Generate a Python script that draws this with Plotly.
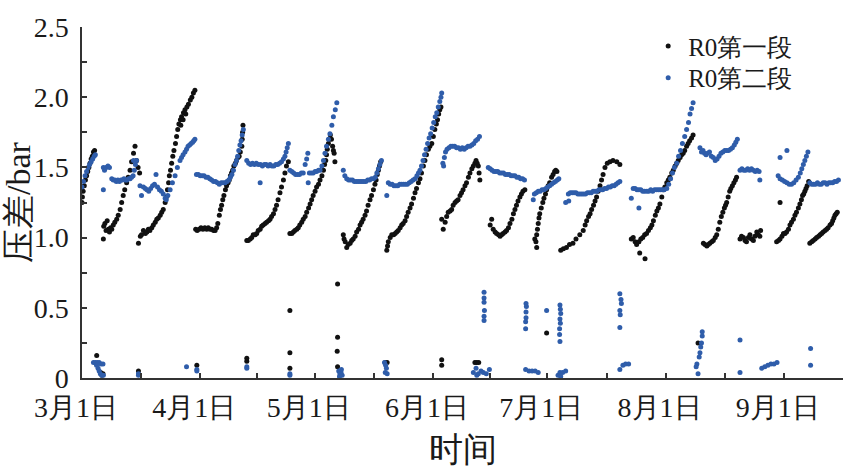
import plotly.graph_objects as go

# ---------------- data (day offset from 3月1日, pressure difference in bar) ----------------
# R0第一段 (black) – main readings, per cycle
seg1_c1 = [(0.0,1.25),(0.1,1.29),(0.3,1.33),(0.6,1.37),(0.9,1.41),(1.2,1.44),(1.5,1.47),(1.8,1.50),(2.1,1.53),(2.4,1.56),(2.7,1.58),(3.0,1.61),(3.3,1.62)]
seg1_c2 = [(5.6,0.99),(5.7,1.08),(6.0,1.10),(6.3,1.05),(6.6,1.12),(6.9,1.06),(7.2,1.04),(7.5,1.07),(7.8,1.06),(8.2,1.09),(8.6,1.11),(9.1,1.13),(9.5,1.16),(10.0,1.20),(10.4,1.25),(10.8,1.30),(11.2,1.34),(11.7,1.39),(12.1,1.43),(12.6,1.48),(13.0,1.54),(13.5,1.60),(13.9,1.65),(14.3,1.55),(14.7,1.50),(15.1,1.46)]
seg1_c3 = [(14.8,0.96),(15.3,1.01),(15.6,1.02),(16.1,1.05),(16.6,1.03),(17.0,1.04),(17.4,1.06),(17.8,1.05),(18.3,1.07),(18.7,1.09),(19.2,1.11),(19.6,1.13),(20.0,1.14),(20.5,1.16),(20.9,1.18),(21.3,1.20),(21.8,1.25),(22.1,1.29),(22.4,1.34),(22.7,1.39),(22.9,1.44),(23.2,1.48),(23.5,1.53),(23.8,1.58),(24.1,1.62),(24.5,1.67),(24.8,1.72),(25.1,1.77),(25.4,1.81),(25.8,1.84),(26.1,1.86),(26.6,1.89),(27.0,1.91),(27.5,1.93),(27.9,1.95),(28.4,1.98),(28.8,2.00),(29.2,2.03),(29.6,2.05),(25.9,1.80),(26.5,1.84),(27.2,1.88)]
seg1_c4 = [(29.8,1.06),(30.2,1.05),(30.7,1.06),(31.2,1.07),(31.7,1.06),(32.2,1.07),(32.7,1.06),(33.1,1.07),(33.6,1.06),(34.0,1.06),(34.5,1.05),(34.9,1.05),(35.3,1.07),(35.6,1.10),(36.0,1.16),(36.3,1.20),(36.6,1.23),(36.9,1.27),(37.2,1.30),(37.6,1.34),(37.9,1.37),(38.3,1.39),(38.6,1.41),(38.9,1.44),(39.2,1.46),(39.5,1.48),(39.8,1.51),(40.2,1.53),(40.5,1.55),(40.9,1.57),(41.2,1.58),(41.5,1.61),(41.9,1.65),(42.0,1.70),(42.1,1.75),(42.2,1.80)]
seg1_c5 = [(43.2,0.98),(43.6,0.98),(44.1,0.99),(44.5,1.00),(44.9,1.02),(45.4,1.02),(45.8,1.03),(46.2,1.05),(46.7,1.06),(47.1,1.08),(47.5,1.09),(48.0,1.10),(48.4,1.11),(48.9,1.12),(49.3,1.13),(49.7,1.15),(50.2,1.17),(50.6,1.20),(51.0,1.23),(51.4,1.27),(51.9,1.32),(52.3,1.36),(52.8,1.41),(53.2,1.46),(53.6,1.51),(54.1,1.54)]
seg1_c6 = [(54.5,1.03),(55.0,1.03),(55.4,1.04),(55.8,1.05),(56.3,1.06),(56.7,1.07),(57.1,1.09),(57.6,1.11),(58.0,1.13),(58.5,1.15),(58.9,1.18),(59.4,1.21),(59.8,1.24),(60.2,1.27),(60.6,1.30),(61.1,1.33),(61.5,1.36),(62.0,1.38),(62.4,1.41),(62.9,1.44),(63.3,1.48),(63.6,1.52),(63.9,1.55),(64.1,1.59),(64.3,1.63),(64.6,1.67),(64.8,1.70),(65.1,1.73),(65.4,1.70),(65.7,1.65),(65.9,1.62),(66.1,1.60),(66.3,1.54)]
seg1_c7 = [(68.5,1.02),(68.7,0.99),(69.0,0.97),(69.4,0.93),(69.8,0.95),(70.3,0.96),(70.7,0.98),(71.1,0.99),(71.6,1.01),(72.0,1.04),(72.5,1.06),(72.9,1.09),(73.3,1.11),(73.7,1.13),(74.2,1.16),(74.6,1.19),(75.0,1.23),(75.5,1.27),(75.9,1.30),(76.4,1.34),(76.8,1.38),(77.1,1.41),(77.4,1.45),(77.7,1.48),(78.0,1.51),(78.3,1.54)]
seg1_c8 = [(79.9,0.91),(80.1,0.94),(80.3,0.97),(80.8,1.00),(81.2,1.02),(81.7,1.02),(82.1,1.03),(82.5,1.04),(82.9,1.05),(83.4,1.07),(83.8,1.09),(84.2,1.10),(84.7,1.12),(85.1,1.15),(85.5,1.18),(86.0,1.21),(86.4,1.24),(86.9,1.28),(87.3,1.32),(87.7,1.35),(88.2,1.39),(88.6,1.42),(89.0,1.46),(89.5,1.51),(89.9,1.55),(90.3,1.59),(90.8,1.63),(91.2,1.65),(91.7,1.67),(92.1,1.72),(92.5,1.77),(92.9,1.81),(93.2,1.84),(93.5,1.88),(93.8,1.91),(94.1,1.93)]
seg1_c9 = [(94.3,1.13),(94.7,1.06),(95.2,1.11),(95.6,1.15),(96.0,1.18),(96.5,1.19),(96.9,1.20),(97.3,1.23),(97.8,1.25),(98.2,1.26),(98.6,1.27),(99.1,1.30),(99.5,1.32),(99.9,1.34),(100.4,1.37),(100.8,1.39),(101.3,1.43),(101.7,1.46),(102.2,1.49),(102.6,1.51),(103.0,1.53),(103.3,1.55),(103.6,1.53),(103.9,1.51),(104.1,1.46),(104.3,1.41)]
seg1_c10 = [(107.0,1.09),(107.4,1.13),(107.8,1.06),(108.3,1.04),(108.7,1.03),(109.2,1.02),(109.6,1.01),(110.0,1.02),(110.4,1.03),(110.9,1.04),(111.3,1.05),(111.8,1.07),(112.2,1.10),(112.7,1.13),(113.1,1.17),(113.5,1.20),(113.9,1.23),(114.3,1.26),(114.8,1.29),(115.2,1.31),(115.6,1.33),(116.1,1.34)]
seg1_c11 = [(118.7,0.99),(119.0,0.97),(119.2,0.93),(119.2,1.02),(119.4,1.06),(119.6,1.10),(119.8,1.14),(120.0,1.17),(120.4,1.21),(120.8,1.25),(121.1,1.28),(121.5,1.31),(121.8,1.34),(122.2,1.37),(122.6,1.39),(123.1,1.43),(123.5,1.45),(123.9,1.47),(124.2,1.48),(124.5,1.47)]
seg1_c12 = [(125.5,0.91),(126.2,0.92),(127.0,0.93),(127.8,0.95),(128.7,0.96),(129.5,0.99),(130.5,1.02),(131.4,1.05),(131.9,1.09),(132.3,1.12),(132.8,1.15),(133.2,1.17),(133.6,1.20),(134.1,1.23),(134.5,1.26),(134.9,1.29),(135.3,1.33),(135.8,1.37),(136.2,1.41),(136.6,1.45),(137.1,1.50),(137.7,1.53),(138.4,1.54),(139.2,1.55),(140.2,1.54),(141.0,1.52)]
seg1_c13 = [(144.0,0.99),(144.5,1.00),(145.0,0.97),(145.4,0.95),(146.0,0.97),(146.5,0.99),(147.0,1.00),(147.5,1.02),(148.0,1.03),(148.5,1.05),(149.0,1.07),(149.4,1.09),(149.8,1.12),(150.3,1.16),(150.7,1.19),(151.1,1.21),(151.5,1.24),(152.0,1.29),(152.4,1.34),(152.8,1.36),(153.3,1.39),(153.7,1.41),(154.1,1.43),(154.6,1.46),(155.0,1.48),(155.5,1.51),(155.9,1.53),(156.3,1.55),(156.8,1.57),(157.2,1.59),(157.6,1.60),(158.0,1.62),(158.5,1.65),(158.9,1.67),(159.3,1.69),(159.8,1.71),(160.2,1.73),(146.2,0.89),(147.6,0.85)]
seg1_c14 = [(162.9,0.96),(163.3,0.95),(163.8,0.94),(164.2,0.95),(164.6,0.96),(165.1,0.97),(165.5,0.98),(166.0,1.00),(166.4,1.02),(166.8,1.06),(167.2,1.11),(167.6,1.15),(168.0,1.18),(168.4,1.21),(168.7,1.23),(169.0,1.25),(169.4,1.29),(169.8,1.33),(170.1,1.35),(170.5,1.37),(170.9,1.39),(171.3,1.41),(171.6,1.43)]
seg1_c15 = [(172.5,0.99),(172.9,1.01),(173.4,1.00),(173.8,0.98),(174.2,0.97),(174.7,1.00),(175.1,1.02),(175.5,0.99),(176.0,0.98),(176.4,1.01),(176.9,1.04),(177.3,1.02),(177.7,1.01),(177.9,1.05)]
seg1_c16 = [(182.1,0.97),(182.6,0.98),(183.0,0.99),(183.0,1.25),(183.5,1.01),(183.9,1.03),(184.3,1.03),(184.7,1.04),(185.2,1.06),(185.6,1.09),(186.0,1.11),(186.5,1.13),(186.9,1.16),(187.3,1.18),(187.8,1.21),(188.2,1.24),(188.6,1.27),(188.9,1.30),(189.2,1.31),(189.5,1.33),(189.8,1.35),(190.1,1.37),(190.5,1.40)]
seg1_c17 = [(190.8,0.96),(191.3,0.97),(191.7,0.98),(192.2,0.99),(192.6,1.00),(193.1,1.01),(193.5,1.02),(193.9,1.03),(194.3,1.04),(194.8,1.05),(195.2,1.06),(195.6,1.07),(196.1,1.09),(196.5,1.10),(196.8,1.12),(197.1,1.14),(197.4,1.16),(197.7,1.17),(198.0,1.18)]
# R0第一段 – readings near zero (shutdown periods)
seg1_low = [(3.85,0.16),(4.9,0.04),(5.2,0.02),(5.5,0.03),(14.8,0.05),(30.1,0.09),(43.2,0.14),(43.2,0.12),(54.5,0.48),(54.5,0.18),(54.5,0.07),(67.0,0.67),(67.0,0.29),(66.9,0.19),(67.0,0.08),(79.5,0.11),(80.0,0.11),(94.3,0.13),(94.3,0.09),(103.0,0.11),(103.5,0.11),(104.0,0.11),(121.8,0.32),(161.5,0.25)]

# R0第二段 (blue) – main readings, per cycle
seg2_c1 = [(0.0,1.36),(0.4,1.40),(0.8,1.44),(1.2,1.47),(1.6,1.50),(2.0,1.52),(2.4,1.54),(2.8,1.56),(3.2,1.58),(3.5,1.59)]
seg2_c2 = [(5.6,1.34),(5.6,1.50),(5.9,1.48),(6.3,1.50),(6.8,1.51),(7.2,1.50),(7.8,1.42),(8.2,1.41),(8.6,1.41),(9.0,1.40),(9.4,1.41),(9.8,1.40),(10.2,1.41),(10.6,1.41),(11.0,1.42),(11.4,1.41),(11.8,1.41),(12.2,1.42),(12.6,1.42),(13.0,1.43),(13.4,1.44),(13.7,1.48),(14.0,1.52),(14.3,1.55),(13.5,1.55)]
seg2_c3 = [(15.2,1.37),(15.6,1.30),(16.1,1.36),(16.6,1.35),(17.0,1.34),(17.5,1.33),(18.0,1.35),(18.5,1.37),(19.0,1.38),(19.4,1.45),(19.8,1.36),(20.3,1.34),(20.8,1.33),(21.3,1.31),(21.8,1.28),(22.1,1.27),(22.5,1.30),(23.1,1.34),(23.7,1.39),(24.4,1.44),(25.0,1.50),(25.7,1.55),(26.1,1.57),(26.5,1.59),(27.0,1.61),(27.4,1.63),(27.8,1.65),(28.2,1.66),(28.6,1.67),(29.0,1.68),(29.3,1.69),(29.6,1.70)]
seg2_c4 = [(30.0,1.45),(30.5,1.45),(31.0,1.44),(31.5,1.44),(32.0,1.44),(32.5,1.43),(33.0,1.43),(33.5,1.42),(34.0,1.41),(34.5,1.40),(35.0,1.40),(35.5,1.39),(36.0,1.38),(36.5,1.39),(37.0,1.39),(37.5,1.39),(38.0,1.40),(38.5,1.41),(38.9,1.43),(39.3,1.45),(39.7,1.48),(40.1,1.52),(40.5,1.55),(40.8,1.58),(41.1,1.62),(41.4,1.66),(41.7,1.69),(42.0,1.73),(42.3,1.77)]
seg2_c5 = [(43.2,1.55),(43.7,1.53),(44.2,1.52),(44.7,1.53),(45.2,1.52),(45.7,1.53),(46.2,1.52),(46.7,1.39),(46.8,1.52),(47.3,1.51),(47.8,1.52),(48.3,1.52),(48.8,1.51),(49.3,1.52),(49.8,1.51),(50.3,1.51),(50.8,1.52),(51.3,1.52),(51.8,1.53),(52.3,1.54),(52.8,1.56),(53.2,1.58),(53.5,1.61),(53.8,1.64),(54.1,1.67)]
seg2_c6 = [(54.5,1.48),(55.0,1.47),(55.5,1.46),(56.0,1.45),(56.5,1.45),(57.0,1.45),(57.5,1.46),(58.0,1.46),(58.5,1.52),(58.9,1.56),(59.2,1.60),(59.3,1.39),(59.6,1.46),(60.1,1.46),(60.6,1.46),(61.1,1.47),(61.5,1.47),(62.0,1.48),(62.4,1.48),(62.9,1.51),(63.3,1.55),(63.7,1.60),(64.1,1.65),(64.6,1.70),(65.0,1.74),(65.5,1.80),(65.9,1.86),(66.4,1.91),(66.8,1.96)]
seg2_c7 = [(68.5,1.48),(68.9,1.44),(69.4,1.42),(69.9,1.41),(70.4,1.41),(70.9,1.41),(71.4,1.40),(71.9,1.40),(72.4,1.40),(72.9,1.40),(73.4,1.40),(73.9,1.40),(74.4,1.40),(74.9,1.41),(75.4,1.41),(75.9,1.42),(76.4,1.42),(76.9,1.43),(77.3,1.46),(77.7,1.49),(78.1,1.52),(78.5,1.55),(79.9,1.30)]
seg2_c8 = [(80.3,1.39),(80.8,1.38),(81.3,1.38),(81.8,1.37),(82.3,1.37),(82.8,1.37),(83.3,1.38),(83.8,1.38),(84.3,1.38),(84.8,1.38),(85.3,1.38),(85.8,1.39),(86.3,1.40),(86.8,1.41),(87.3,1.42),(87.8,1.44),(88.2,1.46),(88.6,1.48),(89.0,1.51),(89.4,1.55),(89.8,1.59),(90.2,1.63),(90.6,1.67),(91.0,1.71),(91.4,1.74),(91.8,1.78),(92.2,1.82),(92.6,1.86),(93.0,1.89),(93.4,1.93),(93.8,1.97),(94.1,2.00),(94.3,2.03)]
seg2_c9 = [(94.6,1.53),(94.8,1.51),(95.0,1.57),(95.3,1.61),(95.7,1.63),(96.2,1.64),(96.7,1.65),(97.2,1.65),(97.7,1.65),(98.2,1.64),(98.7,1.64),(99.2,1.63),(99.7,1.64),(100.2,1.63),(100.7,1.64),(101.2,1.65),(101.7,1.65),(102.2,1.66),(102.7,1.67),(103.2,1.69),(103.7,1.70),(104.2,1.72)]
seg2_c10 = [(106.5,1.50),(107.0,1.49),(107.5,1.48),(108.0,1.47),(108.5,1.47),(109.0,1.47),(109.5,1.46),(110.0,1.46),(110.5,1.46),(111.0,1.45),(111.5,1.45),(112.0,1.45),(112.5,1.44),(113.0,1.44),(113.5,1.44),(114.0,1.43),(114.5,1.43),(115.0,1.42),(115.5,1.42),(116.0,1.41)]
seg2_c11 = [(118.3,1.27),(118.6,1.31),(119.1,1.32),(119.6,1.33),(120.1,1.33),(120.6,1.34),(121.1,1.34),(121.6,1.35),(122.1,1.36),(122.6,1.37),(123.1,1.38),(123.6,1.39),(124.1,1.40),(124.6,1.41),(125.0,1.42)]
seg2_c12 = [(126.8,1.25),(127.6,1.26),(127.5,1.31),(128.0,1.32),(128.5,1.32),(129.0,1.32),(129.5,1.32),(130.0,1.31),(130.5,1.31),(131.0,1.31),(131.5,1.31),(132.0,1.31),(132.5,1.32),(133.0,1.32),(133.5,1.32),(134.0,1.33),(134.5,1.33),(135.0,1.33),(135.5,1.34),(136.0,1.34),(136.5,1.34),(137.0,1.35),(137.5,1.35),(138.0,1.36),(138.5,1.36),(139.0,1.37),(139.5,1.37),(140.0,1.38),(140.5,1.39),(141.0,1.40)]
seg2_c13 = [(144.0,1.28),(146.0,1.21),(144.5,1.35),(145.0,1.35),(145.5,1.34),(146.0,1.34),(146.5,1.34),(147.0,1.33),(147.5,1.33),(148.1,1.33),(148.6,1.33),(149.1,1.34),(149.6,1.33),(150.1,1.34),(150.6,1.34),(151.1,1.34),(151.6,1.34),(152.1,1.34),(152.6,1.34),(153.3,1.35),(153.8,1.38),(154.3,1.42),(154.8,1.46),(155.3,1.50),(155.9,1.53),(156.4,1.58),(156.9,1.62),(157.4,1.67),(158.0,1.72),(158.5,1.77),(159.0,1.82),(159.4,1.88),(159.8,1.92),(160.2,1.96)]
seg2_c14 = [(162.0,1.64),(162.4,1.61),(162.8,1.62),(163.2,1.60),(163.6,1.59),(164.0,1.60),(164.5,1.61),(165.0,1.58),(165.5,1.57),(166.0,1.55),(166.5,1.56),(167.0,1.58),(167.5,1.60),(168.0,1.61),(168.5,1.62),(169.0,1.62),(169.5,1.62),(170.0,1.63),(170.5,1.64),(171.0,1.66),(171.4,1.68),(171.8,1.70)]
seg2_c15 = [(172.5,1.48),(173.0,1.49),(173.5,1.48),(174.0,1.48),(174.5,1.49),(175.0,1.48),(175.5,1.49),(176.0,1.48),(176.5,1.47),(177.0,1.48),(177.5,1.47),(177.7,1.41)]
seg2_c16 = [(182.5,1.44),(183.0,1.57),(183.0,1.42),(183.6,1.41),(184.2,1.40),(184.8,1.62),(184.8,1.39),(185.4,1.38),(186.0,1.38),(186.6,1.39),(187.2,1.41),(187.8,1.43),(188.3,1.46),(188.7,1.49),(189.1,1.52),(189.5,1.55),(189.9,1.58),(190.3,1.61)]
seg2_c17 = [(190.8,1.39),(191.3,1.38),(191.8,1.38),(192.3,1.38),(192.8,1.39),(193.3,1.38),(193.8,1.38),(194.3,1.39),(194.8,1.39),(195.3,1.38),(195.8,1.39),(196.3,1.39),(196.8,1.39),(197.3,1.40),(197.8,1.40),(198.3,1.41)]
# R0第二段 – readings near zero
seg2_low = [(3.0,0.11),(3.5,0.11),(4.0,0.11),(4.5,0.11),(5.0,0.10),(5.5,0.10),(3.8,0.09),(4.2,0.07),(4.5,0.05),(4.8,0.03),(5.2,0.02),(5.6,0.02),
            (14.8,0.02),(14.8,0.03),(27.4,0.08),(30.1,0.06),(30.1,0.05),(43.2,0.08),(43.2,0.07),(54.5,0.03),(54.5,0.02),
            (67.3,0.05),(67.6,0.03),(67.9,0.04),(68.2,0.02),(67.5,0.01),(68.0,0.06),
            (79.3,0.11),(79.6,0.09),(79.8,0.07),(79.5,0.04),(80.0,0.03),
            (102.6,0.04),(103.3,0.07),(103.9,0.03),(104.6,0.05),(105.2,0.04),(106.0,0.03),(106.8,0.06),(103.5,0.02),
            (105.4,0.61),(105.4,0.57),(105.4,0.54),(105.5,0.48),(105.4,0.44),(105.4,0.41),
            (116.4,0.53),(116.5,0.51),(116.4,0.47),(116.4,0.43),(116.3,0.40),(116.3,0.35),
            (116.3,0.06),(117.2,0.05),(118.0,0.05),(118.8,0.05),(119.6,0.04),
            (121.8,0.48),
            (125.3,0.52),(125.4,0.49),(125.5,0.46),(125.3,0.42),(125.4,0.39),(125.2,0.35),(125.2,0.31),(125.3,0.26),
            (124.8,0.02),(125.3,0.04),(126.0,0.04),(126.8,0.05),(125.5,0.01),
            (141.0,0.60),(141.3,0.56),(141.4,0.53),(141.0,0.48),(141.1,0.45),(141.0,0.36),
            (141.0,0.06),(141.8,0.09),(142.5,0.10),(143.3,0.10),
            (162.6,0.33),(162.6,0.30),(162.4,0.25),(162.2,0.22),(162.0,0.18),(161.8,0.15),(161.2,0.10),(161.0,0.08),(161.5,0.03),
            (172.5,0.27),(172.5,0.04),
            (178.2,0.07),(179.0,0.08),(179.8,0.09),(180.6,0.10),(181.4,0.10),(182.2,0.11),
            (191.0,0.21),(191.0,0.09)]

# axis ticks
month_tick_days = [0, 31, 61, 92, 122, 153, 184]
month_tick_labels = ["3月1日", "4月1日", "5月1日", "6月1日", "7月1日", "8月1日", "9月1日"]
mid_tick_days = [15.5, 46, 76.5, 107, 137.5, 168.5, 199.5]
y_tick_vals = [0, 0.25, 0.5, 0.75, 1.0, 1.25, 1.5, 1.75, 2.0, 2.25, 2.5]
y_tick_text = ["0", "", "0.5", "", "1.0", "", "1.5", "", "2.0", "", "2.5"]

series1_name = "R0第一段"
series2_name = "R0第二段"

# ---------------- build ----------------
seg1 = (seg1_c1 + seg1_c2 + seg1_c3 + seg1_c4 + seg1_c5 + seg1_c6 + seg1_c7 + seg1_c8 + seg1_c9
        + seg1_c10 + seg1_c11 + seg1_c12 + seg1_c13 + seg1_c14 + seg1_c15 + seg1_c16 + seg1_c17 + seg1_low)
seg2 = (seg2_c1 + seg2_c2 + seg2_c3 + seg2_c4 + seg2_c5 + seg2_c6 + seg2_c7 + seg2_c8 + seg2_c9
        + seg2_c10 + seg2_c11 + seg2_c12 + seg2_c13 + seg2_c14 + seg2_c15 + seg2_c16 + seg2_c17 + seg2_low)

FONT = "Times New Roman, Liberation Serif, serif"
BLACK = "#111111"
BLUE = "#2F5DAA"

fig = go.Figure()
fig.add_trace(go.Scatter(
    x=[p[0] for p in seg1], y=[p[1] for p in seg1], mode="markers", name=series1_name,
    marker=dict(color=BLACK, size=5, line=dict(width=0)), legend="legend"))
fig.add_trace(go.Scatter(
    x=[p[0] for p in seg2], y=[p[1] for p in seg2], mode="markers", name=series2_name,
    marker=dict(color=BLUE, size=5, line=dict(width=0)), legend="legend2"))

tickvals = sorted(month_tick_days + mid_tick_days)
ticktext = [month_tick_labels[month_tick_days.index(v)] if v in month_tick_days else "" for v in tickvals]

fig.update_layout(
    width=868, height=475,
    margin=dict(l=82, r=25, t=27, b=97),
    paper_bgcolor="white", plot_bgcolor="white",
    font=dict(family=FONT, size=28, color="#1a1a1a"),
    showlegend=True,
    legend=dict(x=0.744, y=0.945, xanchor="left", yanchor="middle", bgcolor="rgba(0,0,0,0)",
                font=dict(size=25), borderwidth=0, tracegroupgap=0),
    legend2=dict(x=0.744, y=0.855, xanchor="left", yanchor="middle", bgcolor="rgba(0,0,0,0)",
                 font=dict(size=25), borderwidth=0, tracegroupgap=0),
    xaxis=dict(range=[0, 199.5], tickmode="array", tickvals=tickvals, ticktext=ticktext,
               ticks="inside", ticklen=5, tickwidth=1.5, tickcolor="#333",
               showline=True, linecolor="#333", linewidth=1.5, showgrid=False, zeroline=False,
               automargin=False, ticklabelstandoff=4, ticklabelshift=-6,
               title=dict(text="时间", standoff=15), tickfont=dict(size=28)),
    yaxis=dict(range=[0, 2.5], tickmode="array", tickvals=y_tick_vals, ticktext=y_tick_text,
               ticks="inside", ticklen=5, tickwidth=1.5, tickcolor="#333",
               showline=True, linecolor="#333", linewidth=1.5, showgrid=False, zeroline=False,
               automargin=False,
               title=dict(text="压差/bar", standoff=6), tickfont=dict(size=28),
               ticklabelstandoff=6),
)

# remove the page's default 8 px body margin so the figure fills the window exactly
fig.write_html("out.html", config={"displayModeBar": False},
               post_script="document.body.style.margin='0px';")
